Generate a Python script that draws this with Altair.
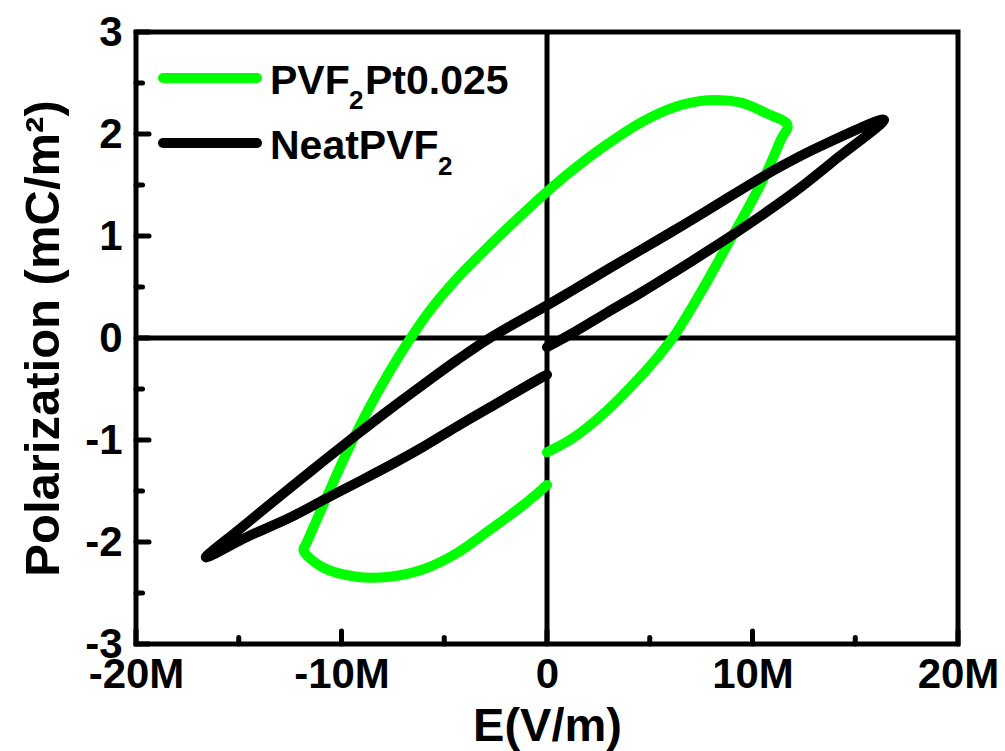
import altair as alt
import pandas as pd

# ---- data (E in units of 1e6 V/m, P in mC/m^2) ----
pt_E = [0, 1.27, 2.93, 4.54, 5.37, 6.15, 7.46, 8.8, 9.8, 10.7, 11.37, 11.7,
        10.7, 9.4, 7.8, 6.15, 4.54, 2.93, 1.27, 0.15, -1.17, -2.78, -4.4, -5.7,
        -6.7, -7.66, -8.8, -9.76, -10.7, -11.7, -11.85,
        -10.9, -9.27, -7.66, -6.05, -4.4, -2.78, -1.17, 0]
pt_P = [-1.12, -0.98, -0.71, -0.38, -0.19, 0.01, 0.44, 0.92, 1.28, 1.63, 1.94, 2.09,
        2.2, 2.31, 2.33, 2.26, 2.11, 1.9, 1.65, 1.46, 1.22, 0.91, 0.58, 0.27,
        -0.02, -0.33, -0.74, -1.13, -1.55, -2.01, -2.08,
        -2.25, -2.34, -2.34, -2.27, -2.11, -1.88, -1.64, -1.44]

neat_E = [0, 1.27, 2.93, 4.54, 6.15, 7.8, 9.4, 11.0, 12.3, 14.1, 16.4,
          13.3, 11.0, 7.8, 6.15, 4.54, 2.93, 1.27, 0,
          -2.78, -4.4, -6.05, -7.66, -9.27, -10.9, -12.5, -15.0, -16.6,
          -14.6, -12.5, -10.9, -9.27, -7.66, -6.05, -4.4, -2.78, -0.2, 0]
neat_P = [-0.09, 0.05, 0.25, 0.44, 0.64, 0.85, 1.06, 1.28, 1.47, 1.76, 2.14,
          1.88, 1.64, 1.25, 1.05, 0.86, 0.67, 0.47, 0.32,
          0.0, -0.22, -0.46, -0.70, -0.95, -1.21, -1.47, -1.88, -2.15,
          -1.95, -1.76, -1.59, -1.42, -1.25, -1.07, -0.87, -0.68, -0.38, -0.36]

x_major = [-20, -10, 0, 10, 20]
x_minor = [-15, -5, 5, 15]
y_major = [-3, -2, -1, 0, 1, 2, 3]
y_minor = [-2.5, -1.5, -0.5, 0.5, 1.5, 2.5]

series_names = ["PVF2Pt0.025", "NeatPVF2"]
legend_row1 = ["PVF", "2", "Pt0.025"]
legend_row2 = ["NeatPVF", "2"]

GREEN = "#00ff00"
FONT = "Liberation Sans"
W, H = 822, 612

xs = alt.Scale(domain=[-20, 20], nice=False, zero=False)
ys = alt.Scale(domain=[-3, 3], nice=False, zero=False)
xaxis = alt.Axis(values=x_major, title="E(V/m)",
                 labelExpr="datum.value == 0 ? '0' : datum.value + 'M'",
                 labelFlush=False, labelPadding=10, titlePadding=8, titleFontSize=47)
yaxis = alt.Axis(values=y_major, title="Polarization (mC/m²)",
                 labelExpr="'' + datum.value", labelFlush=False,
                 labelPadding=14, titlePadding=16, titleFontSize=49)
X = lambda f: alt.X(f, scale=xs, axis=xaxis)
Y = lambda f: alt.Y(f, scale=ys, axis=yaxis)

pt_df = pd.DataFrame({"E": pt_E, "P": pt_P, "i": range(len(pt_E)), "s": series_names[0]})
neat_df = pd.DataFrame({"E": neat_E, "P": neat_P, "i": range(len(neat_E)), "s": series_names[1]})

zero_v = alt.Chart(pd.DataFrame({"E": [0]})).mark_rule(color="black", strokeWidth=5).encode(
    x=X("E:Q"), y=alt.value(0), y2=alt.value(H))
zero_h = alt.Chart(pd.DataFrame({"P": [0]})).mark_rule(color="black", strokeWidth=5).encode(
    y=Y("P:Q"), x=alt.value(0), x2=alt.value(W))

def xticks(vals, length):
    return alt.Chart(pd.DataFrame({"E": vals})).mark_rule(
        color="black", strokeWidth=5, strokeCap="round").encode(
        x=X("E:Q"), y=alt.value(H), y2=alt.value(H - length))

def yticks(vals, length):
    return alt.Chart(pd.DataFrame({"P": vals})).mark_rule(
        color="black", strokeWidth=5, strokeCap="round").encode(
        y=Y("P:Q"), x=alt.value(0), x2=alt.value(length))

line_kw = dict(strokeWidth=10, strokeCap="round", strokeJoin="round", interpolate="catmull-rom")
pt_line = alt.Chart(pt_df).mark_line(color=GREEN, **line_kw).encode(
    x=X("E:Q"), y=Y("P:Q"), order="i:Q")
neat_line = alt.Chart(neat_df).mark_line(color="black", **line_kw).encode(
    x=X("E:Q"), y=Y("P:Q"), order="i:Q")

one = pd.DataFrame({"a": [0]})
def leg_rule(color, y):
    return alt.Chart(one).mark_rule(color=color, strokeWidth=10, strokeCap="round").encode(
        x=alt.value(27), x2=alt.value(121), y=alt.value(y))

def leg_text(txt, x, y, size):
    return alt.Chart(one).mark_text(font=FONT, fontWeight="bold", fontSize=size,
                                    align="left", baseline="alphabetic", color="black").encode(
        x=alt.value(x), y=alt.value(y), text=alt.value(txt))

legend = [
    leg_rule(GREEN, 46), leg_rule("black", 111),
    leg_text(legend_row1[0], 134, 62, 41),
    leg_text(legend_row1[1], 213, 77, 26),
    leg_text(legend_row1[2], 229, 62, 41),
    leg_text(legend_row2[0], 134, 127, 41),
    leg_text(legend_row2[1], 302, 143, 26),
]

chart = alt.layer(
    zero_v, zero_h,
    xticks(x_major, 13), xticks(x_minor, 6.5),
    yticks(y_major, 13), yticks(y_minor, 6.5),
    pt_line, neat_line, *legend
).properties(
    width=W, height=H,
    autosize=alt.AutoSizeParams(type="none"),
    padding={"left": 136, "top": 32, "right": 47, "bottom": 107},
    background="white",
).configure_view(
    stroke="black", strokeWidth=5
).configure_axis(
    domain=False, ticks=False, tickSize=0, grid=False,
    labelFont=FONT, labelFontWeight="bold", labelFontSize=42, labelColor="black",
    titleFont=FONT, titleFontWeight="bold", titleColor="black",
)

chart.save("out.html", embed_options={"renderer": "svg", "actions": False})
